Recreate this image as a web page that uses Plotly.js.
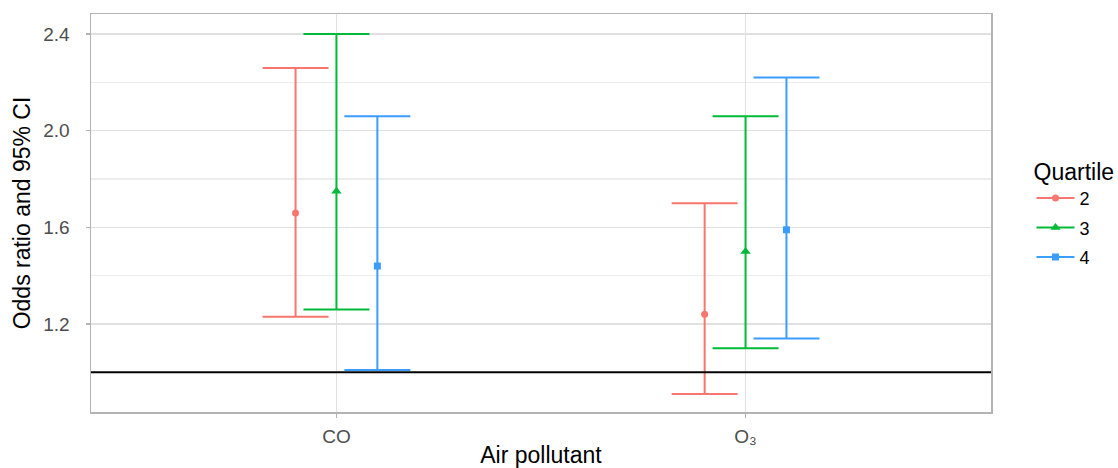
<!DOCTYPE html>
<html>
<head>
<meta charset="utf-8">
<script src="https://cdn.plot.ly/plotly-3.0.1.min.js"></script>
<style>html,body{margin:0;padding:0;background:#fff;}#chart{width:1118px;height:468px;}</style>
</head>
<body>
<div id="chart"></div>
<script>
const pollutants = ["CO", "O₃"];
const quartiles = ["2", "3", "4"];
const orValues = {
  "2": [1.66, 1.24],
  "3": [1.75, 1.50],
  "4": [1.44, 1.59]
};
const ciLower = {
  "2": [1.23, 0.91],
  "3": [1.26, 1.10],
  "4": [1.01, 1.14]
};
const ciUpper = {
  "2": [2.26, 1.70],
  "3": [2.40, 2.06],
  "4": [2.06, 2.22]
};
const referenceLine = 1.0;
const yTicks = [1.2, 1.6, 2.0, 2.4];

const colors = {"2": "#F8766D", "3": "#00BA38", "4": "#3A9DFF"};
const symbols = {"2": "circle", "3": "triangle-up", "4": "square"};
const markerSizes = {"2": 7, "3": 9, "4": 7};
const dodge = {"2": -0.1, "3": 0, "4": 0.1};

const traces = quartiles.map(q => ({
  type: "scatter",
  mode: "markers",
  name: q,
  x: pollutants.map((p, i) => i + 1 + dodge[q]),
  y: orValues[q],
  marker: {color: colors[q], symbol: symbols[q], size: markerSizes[q]},
  error_y: {
    type: "data",
    symmetric: false,
    array: orValues[q].map((v, i) => ciUpper[q][i] - v),
    arrayminus: orValues[q].map((v, i) => v - ciLower[q][i]),
    color: colors[q],
    thickness: 2,
    width: 33
  },
  showlegend: false,
  legendgroup: q
}));

const legendTraces = quartiles.map(q => ({
  type: "scatter",
  mode: "lines+markers",
  name: q,
  x: [null], y: [null],
  line: {color: colors[q], width: 2},
  marker: {color: colors[q], symbol: symbols[q], size: markerSizes[q]},
  showlegend: true,
  legendgroup: q
}));

const layout = {
  width: 1118, height: 468,
  margin: {l: 91, r: 127, t: 14, b: 56, autoexpand: false},
  paper_bgcolor: "#fff", plot_bgcolor: "#fff",
  font: {family: "Liberation Sans, Arial, sans-serif", color: "#000"},
  xaxis: {
    range: [0.4, 2.6],
    tickmode: "array",
    tickvals: pollutants.map((p, i) => i + 1),
    ticktext: pollutants,
    tickfont: {size: 19, color: "#4d4d4d"},
    ticklabelstandoff: 3,
    showgrid: true, gridcolor: "#e0e0e0", gridwidth: 1.5,
    zeroline: false,
    showline: true, mirror: true, linecolor: "#b3b3b3", linewidth: 1.5,
    ticks: "outside", ticklen: 4, tickcolor: "#b3b3b3", tickwidth: 1.5,
    title: {text: "Air pollutant", font: {size: 23, color: "#000"}, standoff: 4}
  },
  yaxis: {
    range: [0.836, 2.483],
    tickmode: "array",
    tickvals: yTicks,
    ticktext: yTicks.map(v => v.toFixed(1)),
    tickfont: {size: 19, color: "#4d4d4d"},
    ticklabelstandoff: 12,
    showgrid: true, gridcolor: "#e0e0e0", gridwidth: 1.5,
    minor: {tickmode: "array", tickvals: [1.0, 1.4, 1.8, 2.2], showgrid: true, gridcolor: "#ececec", gridwidth: 1.2, ticks: ""},
    zeroline: false,
    showline: true, mirror: true, linecolor: "#b3b3b3", linewidth: 1.5,
    ticks: "outside", ticklen: 4, tickcolor: "#b3b3b3", tickwidth: 1.5,
    title: {text: "Odds ratio and 95% CI", font: {size: 23, color: "#000"}, standoff: 6}
  },
  shapes: [{
    type: "line", xref: "paper", yref: "y",
    x0: 0, x1: 1, y0: referenceLine, y1: referenceLine,
    line: {color: "#000", width: 2}
  }],
  legend: {
    x: 1.045, xanchor: "left", y: 0.5, yanchor: "middle",
    title: {text: "Quartile", font: {size: 23, color: "#000"}},
    font: {size: 18, color: "#000"},
    tracegroupgap: 3, itemwidth: 38
  },
  showlegend: true
};

Plotly.newPlot("chart", legendTraces.concat(traces), layout, {displayModeBar: false, staticPlot: true});
</script>
</body>
</html>
